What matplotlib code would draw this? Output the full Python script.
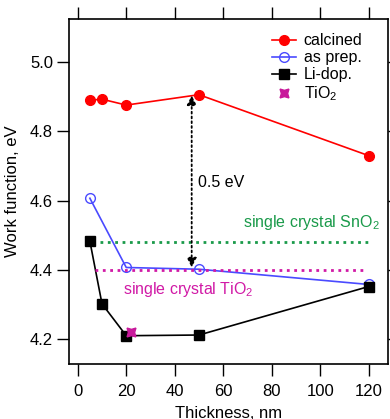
import matplotlib
matplotlib.use('Agg')
import matplotlib.pyplot as plt

plt.rcParams['font.family'] = ['Liberation Sans', 'DejaVu Sans']
plt.rcParams['mathtext.fontset'] = 'custom'
plt.rcParams['mathtext.rm'] = 'Liberation Sans'

# 데이터
x_calc = [5, 10, 20, 50, 120]
y_calc = [4.890, 4.893, 4.876, 4.906, 4.730]
x_prep = [5, 20, 50, 120]
y_prep = [4.607, 4.407, 4.402, 4.358]
x_li = [5, 10, 20, 50, 120]
y_li = [4.483, 4.302, 4.210, 4.212, 4.352]
x_tio2 = [22]
y_tio2 = [4.220]
sno2_level = 4.48
tio2_level = 4.40

fig = plt.figure(figsize=(3.9, 4.19), dpi=100)
ax = fig.add_axes([0.177, 0.131, 0.818, 0.824])

ax.plot(x_calc, y_calc, '-o', color='#ff0000', lw=1.2, ms=7, label='calcined')
ax.plot(x_prep, y_prep, '-o', color='#4a4aff', mfc='none', mew=1.0, lw=1.2, ms=7, label='as prep.')
ax.plot(x_li, y_li, '-s', color='black', lw=1.2, ms=7, label='Li-dop.')
ax.plot(x_tio2, y_tio2, ls='none', marker=(4, 1, 45), color='#c8199b', ms=9, label='TiO$_2$')

ax.plot([9, 120], [sno2_level, sno2_level], ':', color='#1a9a4a', lw=2)
ax.plot([7, 118], [tio2_level, tio2_level], ':', color='#d11aa6', lw=2)

ax.annotate('', xy=(47, y_prep[2] + 0.005), xytext=(47, y_calc[3] - 0.002),
            arrowprops=dict(arrowstyle='<|-|>', ls=':', lw=1.3, color='black',
                            mutation_scale=14, shrinkA=0, shrinkB=0))
ax.text(49.5, 4.653, '0.5 eV', fontsize=11.5, va='center')
ax.text(124.5, 4.537, 'single crystal SnO$_2$', color='#1a9a4a', fontsize=11.5, ha='right', va='center')
ax.text(18.5, 4.343, 'single crystal TiO$_2$', color='#d11aa6', fontsize=11.5, ha='left', va='center')

ax.set_xlim(-3.6, 128)
ax.set_ylim(4.128, 5.125)
ax.set_xticks([0, 20, 40, 60, 80, 100, 120])
ax.set_yticks([4.2, 4.4, 4.6, 4.8, 5.0])
ax.yaxis.set_major_formatter(matplotlib.ticker.FormatStrFormatter('%.1f'))
ax.tick_params(direction='out', length=8.5, width=1, labelsize=12, top=True, right=True)
ax.tick_params(axis='x', pad=6)
ax.tick_params(axis='y', pad=3)
for s in ax.spines.values():
    s.set_linewidth(1.2)

ax.set_xlabel('Thickness, nm', fontsize=12, labelpad=5)
ax.set_ylabel('Work function, eV', fontsize=12, labelpad=7)

ax.legend(loc='upper right', bbox_to_anchor=(0.96, 0.995), frameon=False, fontsize=11.5,
          handlelength=1.5, handletextpad=0.5, labelspacing=0.12, borderaxespad=0.4)

fig.savefig('out.png', dpi=100)
